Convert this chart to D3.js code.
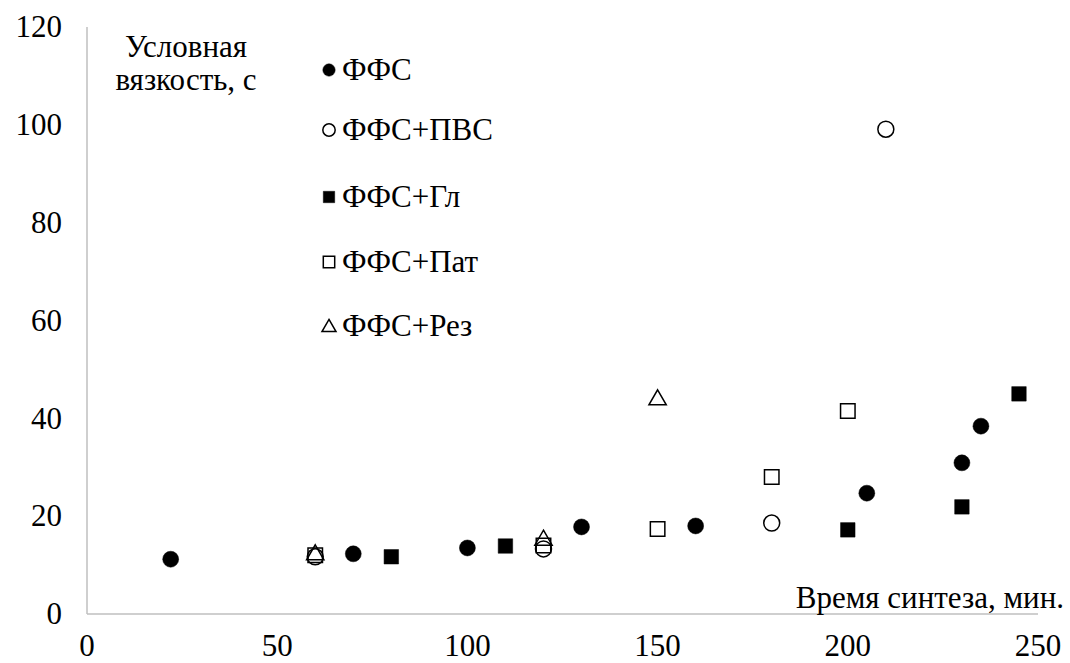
<!DOCTYPE html>
<html>
<head>
<meta charset="utf-8">
<script src="https://cdn.jsdelivr.net/npm/d3@7"></script>
<style>
  body { margin: 0; background: #fff; }
  svg text { font-family: "Liberation Serif", "Times New Roman", "DejaVu Serif", serif; }
</style>
</head>
<body>
<svg width="1070" height="663"></svg>
<script>
const width = 1070;
const height = 663;

// series: [time, viscosity]
const ffs = [[22, 11.2], [70, 12.3], [100, 13.5], [130, 17.8], [160, 18], [205, 24.7], [230, 30.9], [235, 38.4]];
const ffsPvs = [[60, 11.7], [120, 13.3], [180, 18.6], [210, 99.1]];
const ffsGl = [[80, 11.7], [110, 13.9], [200, 17.2], [230, 21.9], [245, 45]];
const ffsPat = [[60, 12], [120, 14], [150, 17.4], [180, 28], [200, 41.5]];
const ffsRez = [[60, 12.5], [120, 15.5], [150, 44.2]];

const seriesNames = ['ФФС', 'ФФС+ПВС', 'ФФС+Гл', 'ФФС+Пат', 'ФФС+Рез'];
const xTicks = [0, 50, 100, 150, 200, 250];
const yTicks = [0, 20, 40, 60, 80, 100, 120];

const series = [
  { name: seriesNames[0], data: ffs, shape: 'circle', fill: true },
  { name: seriesNames[1], data: ffsPvs, shape: 'circle', fill: false },
  { name: seriesNames[2], data: ffsGl, shape: 'square', fill: true },
  { name: seriesNames[3], data: ffsPat, shape: 'square', fill: false },
  { name: seriesNames[4], data: ffsRez, shape: 'triangle', fill: false },
];

const font = '"Liberation Serif", "Times New Roman", "DejaVu Serif", serif';
const fs = 31;
const svg = d3.select('svg');

const x = d3.scaleLinear().domain([0, 250]).range([87, 1038]);
const y = d3.scaleLinear().domain([0, 120]).range([614, 27]);

const symbolType = { circle: d3.symbolCircle, square: d3.symbolSquare, triangle: d3.symbolTriangle };
const symbolSize = { circle: 200, square: 210, triangle: 130 };

// axes lines
svg.append('line')
  .attr('x1', x(0)).attr('x2', x(250))
  .attr('y1', y(0)).attr('y2', y(0))
  .attr('stroke', '#bfbfbf').attr('stroke-width', 1.5);
svg.append('line')
  .attr('x1', x(0)).attr('x2', x(0))
  .attr('y1', y(0)).attr('y2', y(120))
  .attr('stroke', '#bfbfbf').attr('stroke-width', 1.5);

// tick labels
svg.selectAll('.ytick')
  .data(yTicks)
  .enter()
  .append('text')
  .attr('class', 'ytick')
  .attr('x', 62)
  .attr('y', d => y(d))
  .attr('dy', '0.33em')
  .attr('text-anchor', 'end')
  .attr('font-family', font)
  .attr('font-size', fs)
  .text(d => d);

svg.selectAll('.xtick')
  .data(xTicks)
  .enter()
  .append('text')
  .attr('class', 'xtick')
  .attr('x', d => x(d))
  .attr('y', 646)
  .attr('dy', '0.33em')
  .attr('text-anchor', 'middle')
  .attr('font-family', font)
  .attr('font-size', fs)
  .text(d => d);

// axis titles
svg.append('text')
  .attr('x', 186).attr('y', 57)
  .attr('text-anchor', 'middle')
  .attr('font-family', font)
  .attr('font-size', fs)
  .text('Условная');
svg.append('text')
  .attr('x', 186).attr('y', 90)
  .attr('text-anchor', 'middle')
  .attr('font-family', font)
  .attr('font-size', fs)
  .text('вязкость, с');
svg.append('text')
  .attr('x', 1064).attr('y', 608)
  .attr('text-anchor', 'end')
  .attr('font-family', font)
  .attr('font-size', fs)
  .text('Время синтеза, мин.');

// points
series.forEach(s => {
  const sym = d3.symbol().type(symbolType[s.shape]).size(symbolSize[s.shape]);
  svg.append('g')
    .selectAll('path')
    .data(s.data)
    .enter()
    .append('path')
    .attr('d', sym)
    .attr('transform', d => `translate(${x(d[0])},${y(d[1]) + (s.shape === 'triangle' ? 2 : 0)})`)
    .attr('fill', s.fill ? '#000' : 'none')
    .attr('stroke', '#000')
    .attr('stroke-width', s.fill ? 0.5 : 1.5);
});

// legend
const legendY = [70, 130, 197, 262, 326];
const legend = svg.append('g');
series.forEach((s, i) => {
  const sizeL = { circle: 120, square: 130, triangle: 85 };
  const sym = d3.symbol().type(symbolType[s.shape]).size(sizeL[s.shape]);
  legend.append('path')
    .attr('d', sym)
    .attr('transform', `translate(329,${legendY[i] + (s.shape === 'triangle' ? 1.5 : 0)})`)
    .attr('fill', s.fill ? '#000' : 'none')
    .attr('stroke', '#000')
    .attr('stroke-width', s.fill ? 0.5 : 1.5);
  legend.append('text')
    .attr('x', 342)
    .attr('y', legendY[i])
    .attr('dy', '0.33em')
    .attr('font-family', font)
    .attr('font-size', fs)
    .text(s.name);
});
</script>
</body>
</html>
